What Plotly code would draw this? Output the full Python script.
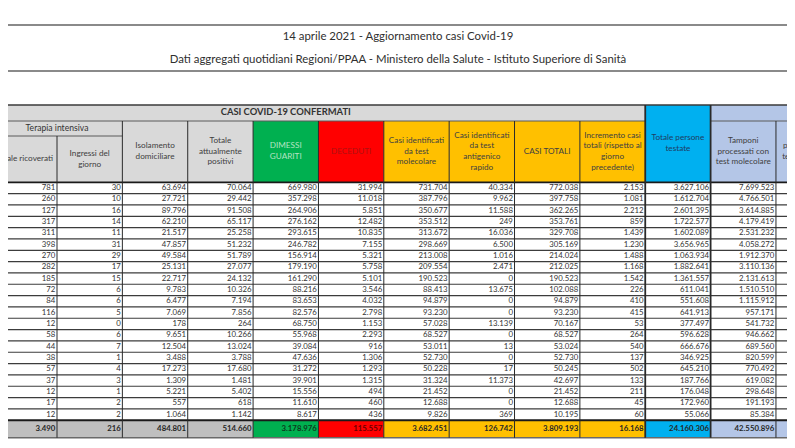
import plotly.graph_objects as go

# testi
title_text = '14 aprile 2021 - Aggiornamento casi Covid-19'
subtitle_text = 'Dati aggregati quotidiani Regioni/PPAA - Ministero della Salute - Istituto Superiore di Sanità'
band_text = 'CASI COVID-19 CONFERMATI'
ti_text = 'Terapia intensiva'

headers = ['Totale ricoverati', 'Ingressi del<br>giorno', 'Isolamento<br>domiciliare',
           'Totale<br>attualmente<br>positivi', 'DIMESSI<br>GUARITI', 'DECEDUTI',
           'Casi identificati<br>da test<br>molecolare',
           'Casi identificati<br>da test<br>antigenico<br>rapido', 'CASI TOTALI',
           'Incremento casi<br>totali (rispetto al<br>giorno<br>precedente)',
           'Totale persone<br>testate', 'Tamponi<br>processati con<br>test molecolare',
           'Tamponi<br>processati con<br>test antigenico<br>rapido']

# dati per colonna (una riga per regione)
ti_totale = [781, 260, 127, 317, 311, 398, 270, 282, 185, 72, 84, 116, 12, 58, 44, 38, 57, 37, 12, 17, 12]
ti_ingressi = [30, 10, 16, 14, 11, 31, 29, 17, 15, 6, 6, 5, 0, 6, 7, 1, 4, 3, 1, 2, 2]
isolamento = [63694, 27721, 89796, 62210, 21517, 47857, 49584, 25131, 22717, 9783, 6477, 7069,
              178, 9651, 12504, 3488, 17273, 1309, 5221, 557, 1064]
positivi = [70064, 29442, 91508, 65117, 25258, 51232, 51789, 27077, 24132, 10326, 7194, 7856,
            264, 10266, 13024, 3788, 17680, 1481, 5402, 618, 1142]
guariti = [669980, 357298, 264906, 276162, 293615, 246782, 156914, 179190, 161290, 88216, 83653,
           82576, 68750, 55968, 39084, 47636, 31272, 39901, 15556, 11610, 8617]
deceduti = [31994, 11018, 5851, 12482, 10835, 7155, 5321, 5758, 5101, 3546, 4032, 2798, 1153,
            2293, 916, 1306, 1293, 1315, 494, 460, 436]
casi_molecolare = [731704, 387796, 350677, 353512, 313672, 298669, 213008, 209554, 190523, 88413,
                   94879, 93230, 57028, 68527, 53011, 52730, 50228, 31324, 21452, 12688, 9826]
casi_antigenico = [40334, 9962, 11588, 249, 16036, 6500, 1016, 2471, 0, 13675, 0, 0, 13139, 0,
                   13, 0, 17, 11373, 0, 0, 369]
casi_totali = [772038, 397758, 362265, 353761, 329708, 305169, 214024, 212025, 190523, 102088,
               94879, 93230, 70167, 68527, 53024, 52730, 50245, 42697, 21452, 12688, 10195]
incremento = [2153, 1081, 2212, 859, 1439, 1230, 1488, 1168, 1542, 226, 410, 415, 53, 264, 540,
              137, 502, 133, 211, 45, 60]
persone_testate = [3627106, 1612704, 2601395, 1722577, 1602089, 3656965, 1063934, 1882641,
                   1361557, 611041, 551608, 641913, 377497, 596628, 666676, 346925, 645210,
                   187766, 176048, 172960, 55066]
tamponi_molecolare = [7699523, 4766501, 3614885, 4179419, 2531232, 4058272, 1912370, 3110136,
                      2131613, 1510510, 1115912, 957171, 541732, 946662, 689560, 820599, 770492,
                      619082, 298648, 191193, 85384]
# totali (ultima colonna tagliata: si legge solo la prima cifra, valore stimato)
totali = [3490, 216, 484801, 514660, 3178976, 115557, 3682451, 126742, 3809193, 16168,
          24160306, 42550896, 11396474]

columns = [ti_totale, ti_ingressi, isolamento, positivi, guariti, deceduti, casi_molecolare,
           casi_antigenico, casi_totali, incremento, persone_testate, tamponi_molecolare]

# geometria (pixel)
COL_W = 65.36
X0 = 49 - COL_W          # bordo sinistro della colonna "Totale ricoverati"
TABLE_TOP = 97
BAND_BOTTOM = 113
TI_BOTTOM = 128
DATA_TOP = 174.3
ROW_H = 11.33
TOTAL_H = 17.5
FONT = 'Lato'

GREY = '#d9d9d9'
GREEN = '#00b050'
RED = '#ff0000'
ORANGE = '#ffc000'
BLUE = '#00b0f0'
LAV = '#b4c6e7'
header_fill = [GREY] * 4 + [GREEN, RED] + [ORANGE] * 4 + [BLUE] + [LAV] * 2
total_fill = ['#bfbfbf'] * 4 + [GREEN, RED] + [ORANGE] * 4 + [BLUE] + [LAV] * 2
header_color = ['#404040'] * 4 + ['#b6e3c2', '#b01010'] + ['#404040'] * 4 + ['#1f3c64'] + ['#404040'] * 2
total_color = ['#262626'] * 4 + ['#0e3a1c', '#6a0000'] + ['#262626'] * 7

n_rows = len(ti_totale)
total_top = DATA_TOP + n_rows * ROW_H
total_bottom = total_top + TOTAL_H


def left(k):
    return X0 + k * COL_W


def fmt(v):
    return f'{v:,}'.replace(',', '.')


shapes = []


def rect(x0, x1, y0, y1, fill):
    shapes.append(dict(type='rect', xref='x', yref='y', x0=x0, x1=x1, y0=y0, y1=y1,
                       fillcolor=fill, line=dict(width=0), layer='below'))


def line(x0, x1, y0, y1, color='#3a3a3a', width=1):
    shapes.append(dict(type='line', xref='x', yref='y', x0=x0, x1=x1, y0=y0, y1=y1,
                       line=dict(color=color, width=width)))


# intestazione
rect(left(-1), left(10), TABLE_TOP, BAND_BOTTOM, GREY)
rect(left(10), left(11), TABLE_TOP, DATA_TOP, BLUE)
rect(left(11), left(13), TABLE_TOP, BAND_BOTTOM, LAV)
for k in range(len(headers)):
    if k == 10:
        continue
    top = TI_BOTTOM if k < 2 else BAND_BOTTOM
    rect(left(k), left(k + 1), top, DATA_TOP, header_fill[k])
rect(left(0), left(2), BAND_BOTTOM, TI_BOTTOM, GREY)
# riga dei totali
for k in range(len(totali)):
    rect(left(k), left(k + 1), total_top, total_bottom, total_fill[k])

# righe orizzontali
line(0, 795, 17, 17, '#8a8a8a', 2)
line(0, 795, 63, 63, '#8a8a8a', 2)
line(0, 795, TABLE_TOP, TABLE_TOP, '#3a3a3a', 1.5)
line(0, left(10), BAND_BOTTOM, BAND_BOTTOM, '#5a5a5a', 1)
line(left(11), 795, BAND_BOTTOM, BAND_BOTTOM, '#5a5a5a', 1)
line(0, left(2), TI_BOTTOM, TI_BOTTOM, '#5a5a5a', 1)
line(0, 795, DATA_TOP, DATA_TOP, '#1a1a1a', 1.8)
for j in range(1, n_rows):
    y = DATA_TOP + j * ROW_H
    line(0, 795, y, y, '#3c3c3c', 1.2)
line(0, 795, total_top, total_top, '#1a1a1a', 1.8)
line(0, 795, total_bottom, total_bottom, '#6a6a6a', 1.5)

# righe verticali
for k in range(13):
    x = left(k + 1)
    if k == 0:
        top = TI_BOTTOM
    elif k in (9, 10):
        top = TABLE_TOP
    else:
        top = BAND_BOTTOM
    w = 1.8 if k in (9, 10) else 1
    line(x, x, top, total_bottom, '#2a2a2a', w)

fig = go.Figure()

# valori per colonna
row_y = [DATA_TOP + (j + 0.5) * ROW_H for j in range(n_rows)]
for k, col in enumerate(columns):
    fig.add_trace(go.Scatter(
        x=[left(k + 1) - 1.6] * n_rows, y=row_y, mode='text',
        text=[fmt(v) for v in col], textposition='middle left',
        textfont=dict(family=FONT, size=7.8, color='#333333'),
        hoverinfo='skip'))

# totali
fig.add_trace(go.Scatter(
    x=[left(k + 1) - 1.6 for k in range(len(totali))],
    y=[total_top + TOTAL_H / 2] * len(totali), mode='text',
    text=[fmt(v) for v in totali], textposition='middle left',
    textfont=dict(family=FONT, size=7.8, color=total_color, weight='bold'),
    hoverinfo='skip'))

# testi di intestazione
head_top = [TI_BOTTOM if k < 2 else (TABLE_TOP if k == 10 else BAND_BOTTOM) for k in range(len(headers))]
fig.add_trace(go.Scatter(
    x=[left(k) + COL_W / 2 for k in range(len(headers))],
    y=[(head_top[k] + DATA_TOP) / 2 for k in range(len(headers))],
    mode='text', text=headers, textposition='middle center',
    textfont=dict(family=FONT, size=8.2, color=header_color),
    hoverinfo='skip'))
fig.add_trace(go.Scatter(
    x=[left(1), left(-1) + 5.5 * COL_W], y=[(BAND_BOTTOM + TI_BOTTOM) / 2, (TABLE_TOP + BAND_BOTTOM) / 2],
    mode='text', text=[ti_text, band_text], textposition='middle center',
    textfont=dict(family=FONT, size=[8.6, 9.4], color='#333333', weight=['normal', 'bold']),
    hoverinfo='skip'))

# titoli
fig.add_trace(go.Scatter(
    x=[390, 390], y=[29.5, 52.5], mode='text', text=[title_text, subtitle_text],
    textposition='middle center',
    textfont=dict(family=FONT, size=11.4, color='#2f2f2f'), hoverinfo='skip'))

fig.update_layout(
    width=795, height=448, margin=dict(l=0, r=0, t=0, b=0),
    paper_bgcolor='white', plot_bgcolor='white', showlegend=False, hovermode=False,
    shapes=shapes,
    xaxis=dict(range=[0, 795], visible=False, fixedrange=True),
    yaxis=dict(range=[448, 0], visible=False, fixedrange=True),
)

fig.write_html('out.html')
